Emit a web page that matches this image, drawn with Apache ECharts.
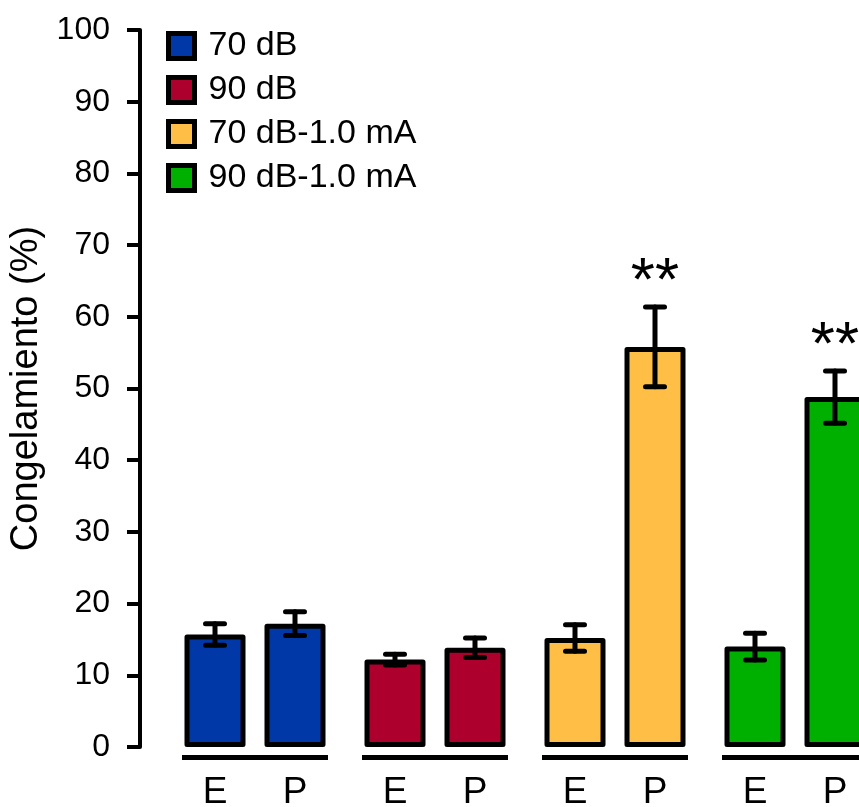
<!DOCTYPE html>
<html><head><meta charset="utf-8">
<script src="https://cdn.jsdelivr.net/npm/echarts@6/dist/echarts.min.js"></script>
<style>html,body{margin:0;padding:0;background:#fff}#c{width:859px;height:807px}</style>
</head><body><div id="c"></div>
<script>
// ---- data ----
const groups = ['70 dB', '90 dB', '70 dB-1.0 mA', '90 dB-1.0 mA'];
const phases = ['E', 'P'];
const eMean = [15.7, 12.2, 15.2, 14.0];
const eErr  = [1.5, 0.75, 1.85, 1.85];
const pMean = [17.2, 13.85, 55.8, 48.8];
const pErr  = [1.65, 1.35, 5.55, 3.65];
const eSig  = ['', '', '', ''];
const pSig  = ['', '', '**', '**'];
const groupColors = ['#0038A8', '#AD002D', '#FFBE45', '#00B000'];
const yMin = 0, yMax = 100, yStep = 10;
const yName = 'Congelamiento (%)';

// ---- style constants ----
const FONT = '"Liberation Sans", Arial, Helvetica, sans-serif';
const BAR_W = 61, BAR_GAP = 19, BORDER = 5;
const PAIR_OFF = (BAR_W + BAR_GAP) / 2;

const chart = echarts.init(document.getElementById('c'), null, {renderer: 'canvas'});

function barData(means) {
  return means.map((v, i) => ({value: v, itemStyle: {color: groupColors[i]}}));
}
function errSeries(means, errs, sigs, side) {
  return {
    type: 'custom',
    coordinateSystem: 'cartesian2d',
    z: 5,
    silent: true,
    data: means.map((m, i) => [i, m, errs[i]]),
    renderItem: function (params, api) {
      const i = api.value(0), m = api.value(1), e = api.value(2);
      const x = api.coord([i, m])[0] + side * PAIR_OFF;
      const yt = api.coord([i, m + e])[1];
      const yb = api.coord([i, m - e])[1];
      const st = {stroke: '#000', lineWidth: 5, lineCap: 'round'};
      const cap = 9.5;
      const children = [
        {type: 'line', shape: {x1: x, y1: yt, x2: x, y2: yb}, style: st},
        {type: 'line', shape: {x1: x - cap, y1: yt, x2: x + cap, y2: yt}, style: st},
        {type: 'line', shape: {x1: x - cap, y1: yb, x2: x + cap, y2: yb}, style: st}
      ];
      const s = sigs[params.dataIndex];
      if (s) {
        children.push({type: 'text', style: {text: s, x: x, y: yt - 24, fill: '#000',
          font: '62px ' + FONT, textAlign: 'center', textVerticalAlign: 'middle'}});
      }
      return {type: 'group', children: children};
    }
  };
}

const option = {
  animation: false,
  backgroundColor: '#fff',
  textStyle: {fontFamily: FONT},
  grid: {left: 165, top: 30, width: 720, bottom: 60, containLabel: false, outerBoundsMode: 'none'},
  legend: {
    left: 166, top: 29, orient: 'vertical', padding: 0,
    itemWidth: 26, itemHeight: 25, itemGap: 10,
    icon: 'rect',
    itemStyle: {borderColor: '#000', borderWidth: 5},
    textStyle: {fontSize: 34, color: '#000', fontFamily: FONT, padding: [0, 0, 0, 9], lineHeight: 31},
    data: groups.map((g, i) => ({name: g, icon: 'rect', itemStyle: {color: groupColors[i], borderColor: '#000', borderWidth: 5}}))
  },
  xAxis: {
    type: 'category', data: groups,
    axisLine: {show: false}, axisTick: {show: false}, axisLabel: {show: false},
    splitLine: {show: false}
  },
  yAxis: {
    type: 'value', min: yMin, max: yMax, interval: yStep, offset: 25,
    name: yName, nameLocation: 'middle', nameGap: 86,
    nameTextStyle: {fontSize: 38, color: '#000', fontFamily: FONT},
    axisLine: {show: true, lineStyle: {color: '#000', width: 4, cap: 'round'}},
    axisTick: {show: true, length: 13, lineStyle: {color: '#000', width: 4}},
    axisLabel: {fontSize: 32, color: '#000', margin: 30, fontFamily: FONT},
    splitLine: {show: false}
  },
  series: [
    {
      name: phases[0], type: 'bar', barWidth: BAR_W, barGap: (BAR_GAP / BAR_W * 100) + '%',
      data: barData(eMean),
      itemStyle: {borderColor: '#000', borderWidth: BORDER, borderJoin: 'round'},
      label: {show: true, position: 'bottom', distance: 27, formatter: phases[0], fontSize: 37, color: '#000', fontFamily: FONT}
    },
    {
      name: phases[1], type: 'bar', barWidth: BAR_W,
      data: barData(pMean),
      itemStyle: {borderColor: '#000', borderWidth: BORDER, borderJoin: 'round'},
      label: {show: true, position: 'bottom', distance: 27, formatter: phases[1], fontSize: 37, color: '#000', fontFamily: FONT}
    },
    errSeries(eMean, eErr, eSig, -1),
    errSeries(pMean, pErr, pSig, 1),
    {
      type: 'custom', coordinateSystem: 'cartesian2d', silent: true,
      data: groups.map((g, i) => [i, 0]),
      renderItem: function (params, api) {
        const c = api.coord([api.value(0), 0]);
        const half = BAR_W + BAR_GAP / 2 + BORDER / 2;
        return {type: 'line', shape: {x1: c[0] - half, y1: c[1] + 10.5, x2: c[0] + half, y2: c[1] + 10.5},
          style: {stroke: '#000', lineWidth: 5}};
      }
    }
  ].concat(groups.map((g, i) => ({name: g, type: 'line', data: [], color: groupColors[i], symbol: 'rect'})))
};
chart.setOption(option);
</script>
</body></html>
